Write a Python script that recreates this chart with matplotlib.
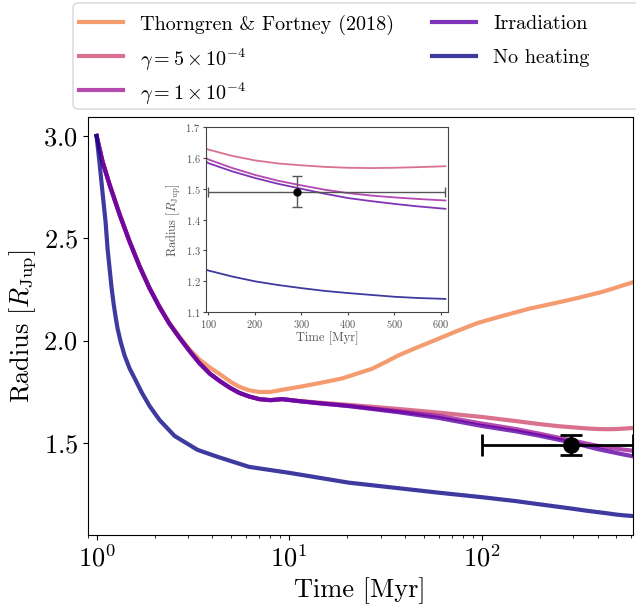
import numpy as np
import matplotlib
matplotlib.use("Agg")
import matplotlib.pyplot as plt
from matplotlib.lines import Line2D
from matplotlib.patches import FancyBboxPatch

plt.rcParams["font.family"] = "serif"
plt.rcParams["font.serif"] = ["cmr10"]
plt.rcParams["mathtext.fontset"] = "cm"
plt.rcParams["axes.formatter.use_mathtext"] = True

# radius evolution tracks [Myr, R_Jup]
t_tf = [1.0, 1.074, 1.168, 1.316, 1.482, 1.67, 1.881, 2.119, 2.388, 2.69, 3.03,
        3.42, 3.88, 4.34, 5.0, 5.5, 6.2, 6.99, 8.0, 8.87, 11.3, 14.3, 18.8, 26.9,
        32, 37, 45, 60, 75, 96, 130, 175, 240, 318, 430, 610]
r_tf = [3.0, 2.876, 2.764, 2.62, 2.488, 2.367, 2.26, 2.168, 2.087, 2.02, 1.958,
        1.908, 1.868, 1.838, 1.797, 1.775, 1.757, 1.749, 1.749, 1.757, 1.774,
        1.792, 1.815, 1.862, 1.897, 1.928, 1.962, 2.01, 2.048, 2.087, 2.122,
        2.155, 2.183, 2.209, 2.24, 2.285]

t_heat = [1.0, 1.074, 1.168, 1.316, 1.482, 1.67, 1.881, 2.119, 2.388, 2.69, 3.03,
          3.42, 3.88, 4.34, 4.9, 5.5, 6.2, 7.0, 8.0, 9.2, 11.3, 14.3, 20.4, 37,
          60, 100, 150, 200, 250, 300, 350, 400, 450, 500, 550, 610]
r_g5 = [3.0, 2.874, 2.762, 2.617, 2.485, 2.364, 2.257, 2.165, 2.083, 2.015, 1.951,
        1.89, 1.838, 1.804, 1.771, 1.745, 1.727, 1.714, 1.709, 1.714, 1.705,
        1.697, 1.686, 1.666, 1.648, 1.627, 1.607, 1.592, 1.582, 1.576, 1.571,
        1.568, 1.567, 1.568, 1.57, 1.573]
r_g1 = [3.0, 2.874, 2.762, 2.617, 2.485, 2.364, 2.257, 2.165, 2.083, 2.015, 1.951,
        1.89, 1.838, 1.804, 1.771, 1.745, 1.727, 1.714, 1.709, 1.714, 1.704,
        1.694, 1.681, 1.655, 1.632, 1.595, 1.568, 1.545, 1.526, 1.511, 1.497,
        1.486, 1.478, 1.472, 1.467, 1.462]
r_irr = [3.0, 2.874, 2.762, 2.617, 2.485, 2.364, 2.257, 2.165, 2.083, 2.015, 1.951,
         1.89, 1.838, 1.804, 1.771, 1.745, 1.727, 1.714, 1.709, 1.714, 1.704,
         1.694, 1.68, 1.65, 1.622, 1.583, 1.557, 1.535, 1.516, 1.5, 1.484, 1.47,
         1.46, 1.451, 1.443, 1.435]

t_noheat = [1.0, 1.037, 1.074, 1.114, 1.141, 1.169, 1.197, 1.226, 1.255, 1.286,
            1.333, 1.398, 1.484, 1.576, 1.713, 1.886, 2.124, 2.543, 3.347, 4.254,
            6.2, 10, 20.4, 59.7, 100, 150, 200, 250, 300, 350, 400, 450, 500,
            550, 610]
r_noheat = [3.0, 2.864, 2.723, 2.578, 2.447, 2.35, 2.257, 2.18, 2.117, 2.058,
            1.995, 1.927, 1.864, 1.816, 1.748, 1.68, 1.612, 1.534, 1.466, 1.432,
            1.383, 1.354, 1.306, 1.257, 1.235, 1.216, 1.2, 1.188, 1.178, 1.169,
            1.162, 1.156, 1.15, 1.146, 1.143]

# observed planet
obs_age = 290
obs_age_err = [[190], [320]]
obs_r = 1.49
obs_r_err = 0.05

labels = ["Thorngren & Fortney (2018)", r"$\gamma = 5 \times 10^{-4}$",
          r"$\gamma = 1 \times 10^{-4}$", "Irradiation", "No heating"]
colors = plt.get_cmap("plasma")(np.linspace(0, 0.7, 5))[::-1]
tracks = [(t_tf, r_tf), (t_heat, r_g5), (t_heat, r_g1), (t_heat, r_irr),
          (t_noheat, r_noheat)]

W, H = 636, 605
fig = plt.figure(figsize=(W / 100, H / 100), dpi=100)
ax = fig.add_axes([0.138, 0.1157, 0.857, 0.691])

for (t, r), c, lab in zip(tracks, colors, labels):
    ax.plot(t, r, color=c, lw=3, alpha=0.8, label=lab)

ax.errorbar(obs_age, obs_r, xerr=obs_age_err, yerr=obs_r_err, fmt="o", color="k",
            ms=11, capsize=8, elinewidth=2, capthick=2, zorder=10)

ax.set_xscale("log")
ax.set_xlim(0.9, 610)
ax.set_xlabel("Time [Myr]", fontsize=19)
ax.set_ylabel(r"Radius [$R_{\rm Jup}$]", fontsize=19)
ax.set_yticks([1.5, 2.0, 2.5, 3.0])
ax.tick_params(labelsize=19)

# legend laid out by hand (two columns, box runs off the right edge)
frame = FancyBboxPatch((73 / W, 1 - 109 / H), 700 / W, 106 / H,
                       boxstyle="round,pad=0,rounding_size=0.008",
                       transform=fig.transFigure, facecolor="white",
                       edgecolor="0.8", lw=1, alpha=0.8)
fig.patches.append(frame)
slots = [(79, 22), (79, 56), (79, 90), (432, 22), (432, 56)]
for (x0, y0), c, lab in zip(slots, colors, labels):
    fig.lines.append(Line2D([x0 / W, (x0 + 44) / W], [1 - y0 / H, 1 - y0 / H],
                            transform=fig.transFigure, color=c, lw=3, alpha=0.8))
    fig.text((x0 + 61) / W, 1 - y0 / H, lab, fontsize=14.5, va="center_baseline",
             ha="left")

# inset zoom on the observed age range
axin = fig.add_axes([0.324, 0.484, 0.38, 0.306])
for (t, r), c in zip(tracks, colors):
    axin.plot(t, r, color=c, lw=1.3, alpha=0.8)
axin.errorbar(obs_age, obs_r, xerr=obs_age_err, yerr=obs_r_err, fmt="o", color="k",
              ecolor="#555555", ms=5, capsize=3.5, elinewidth=1, capthick=1,
              zorder=10)
axin.set_xlim(95, 615)
axin.set_ylim(1.1, 1.7)
axin.set_xticks([100, 200, 300, 400, 500, 600])
axin.set_xlabel("Time [Myr]", fontsize=9, color="#555555", labelpad=1)
axin.set_ylabel(r"Radius [$R_{\rm Jup}$]", fontsize=9, color="#555555", labelpad=2)
axin.tick_params(labelsize=7.5, colors="#444444", labelcolor="#555555",
                 length=2.5, pad=1.5)
for s in axin.spines.values():
    s.set_color("#444444")

fig.savefig("out.png", dpi=100)
